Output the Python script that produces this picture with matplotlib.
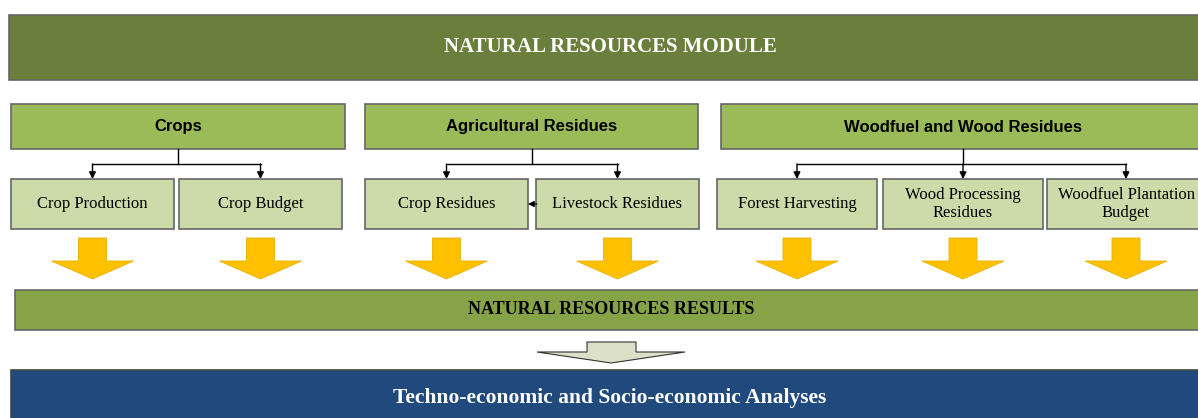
import matplotlib
matplotlib.use('Agg')
import matplotlib.pyplot as plt
from matplotlib.patches import Rectangle, Polygon

# Text content
title = 'NATURAL RESOURCES MODULE'
groups = ['Crops', 'Agricultural Residues', 'Woodfuel and Wood Residues']
children = [
    ['Crop Production', 'Crop Budget'],
    ['Crop Residues', 'Livestock Residues'],
    ['Forest Harvesting', 'Wood Processing\nResidues', 'Woodfuel Plantation\nBudget'],
]
results = 'NATURAL RESOURCES RESULTS'
analysis = 'Techno-economic and Socio-economic Analyses'

# Layout (pixel units)
group_x = [(11, 345), (365, 698), (721, 1210)]
child_x = [
    [(11, 174), (179, 342)],
    [(365, 528), (536, 699)],
    [(717, 877), (883, 1043), (1047, 1205)],
]

DARK = '#6A7F3B'
MID = '#9BBB59'
LIGHT = '#CDDBAA'
RES = '#86A447'
BLUE = '#204A7E'
YELLOW = '#FFC000'
EDGE = '#666666'
SERIF = 'Liberation Serif'
SANS = 'Liberation Sans'

fig = plt.figure(figsize=(11.98, 4.18), dpi=100)
ax = fig.add_axes([0, 0, 1, 1])
ax.set_xlim(0, 1198)
ax.set_ylim(418, 0)
ax.axis('off')


def box(x0, x1, y0, y1, fc, lw=1.2, ec=EDGE):
    ax.add_patch(Rectangle((x0, y0), x1 - x0, y1 - y0, fc=fc, ec=ec, lw=lw))


# top module box
box(9, 1210, 15, 80, DARK)
ax.text(610, 47, title, ha='center', va='center', color='white',
        fontsize=15, fontweight='bold', family=SERIF)

for g, name in enumerate(groups):
    x0, x1 = group_x[g]
    box(x0, x1, 104, 149, MID)
    ax.text((x0 + x1) / 2 if g < 2 else 963, 127, name, ha='center',
            va='center', fontsize=12, fontweight='bold', family=SANS)

    # connectors
    cx = [(a + b) / 2 for a, b in child_x[g]]
    mid = (x0 + x1) / 2 if g < 2 else 963
    ax.plot([mid, mid], [149, 164], color='black', lw=1)
    ax.plot([cx[0], cx[-1]], [164, 164], color='black', lw=1)
    for c in cx:
        ax.annotate('', xy=(c, 179), xytext=(c, 164),
                    arrowprops=dict(arrowstyle='-|>', color='black', lw=1,
                                    mutation_scale=10, shrinkA=0, shrinkB=0))

    for k, label in enumerate(children[g]):
        a, b = child_x[g][k]
        box(a, b, 179, 229, LIGHT)
        ax.text((a + b) / 2, 204, label, ha='center', va='center',
                fontsize=12, family=SERIF, linespacing=1.2)
        # yellow block arrow below each child
        c = (a + b) / 2
        ax.add_patch(Polygon([(c - 14, 238), (c + 14, 238), (c + 14, 261),
                              (c + 41, 261), (c, 279), (c - 41, 261),
                              (c - 14, 261)], closed=True, fc=YELLOW,
                             ec='#E8B000', lw=0.6))

# small arrow from livestock residues to crop residues
ax.annotate('', xy=(528, 204), xytext=(537, 204),
            arrowprops=dict(arrowstyle='-|>', color='black', lw=0.8,
                            mutation_scale=9, shrinkA=0, shrinkB=0))

# results bar
box(15, 1210, 290, 330, RES)
ax.text(611, 310, results, ha='center', va='center', color='black',
        fontsize=13, fontweight='bold', family=SERIF)

# gray arrow
ax.add_patch(Polygon([(587, 342), (636, 342), (636, 352), (685, 352),
                      (611, 363), (537, 352), (587, 352)], closed=True,
                     fc='#DDE0C8', ec='#333333', lw=0.8))

# analyses bar
box(11, 1210, 370, 430, BLUE, ec='#444444')
ax.text(610, 398, analysis, ha='center', va='center', color='white',
        fontsize=15.5, fontweight='bold', family=SERIF)

fig.savefig('out.png', dpi=100)
